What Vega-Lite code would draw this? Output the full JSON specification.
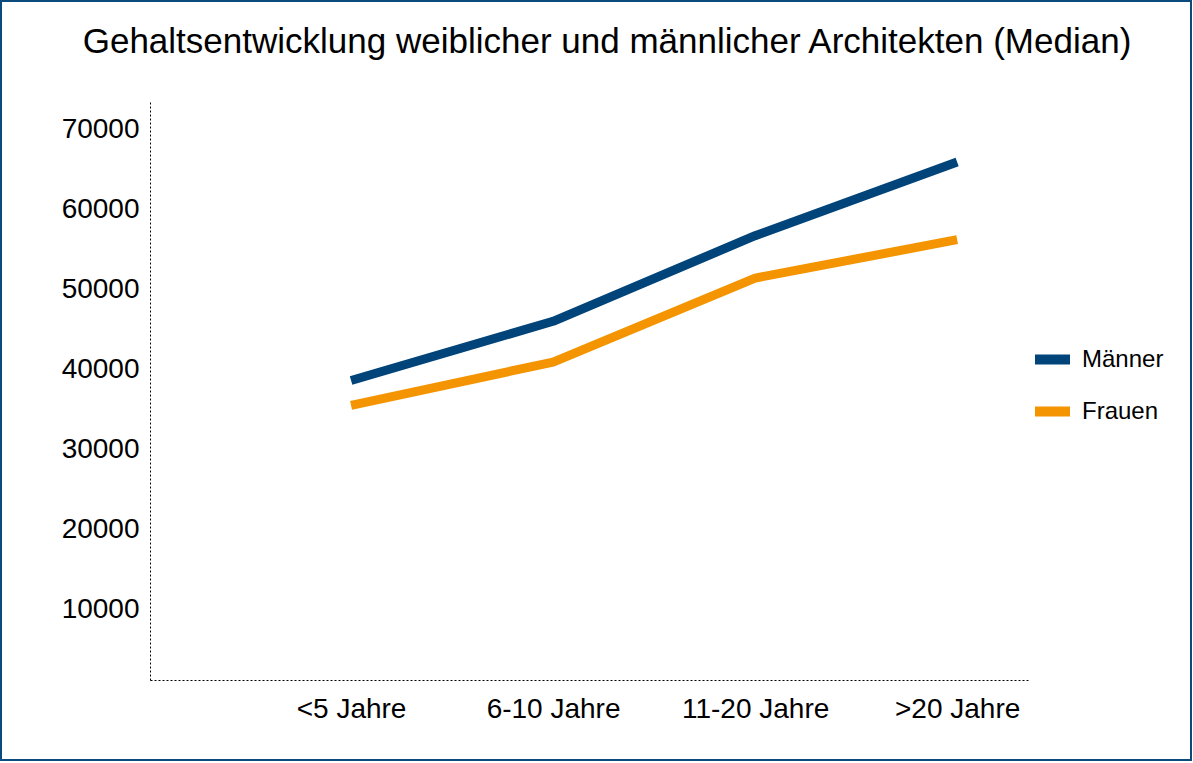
{
  "$schema": "https://vega.github.io/schema/vega-lite/v6.json",
  "autosize": "none",
  "width": 1190,
  "height": 759,
  "padding": {"left": 1, "top": 1, "right": 2, "bottom": 3},
  "background": "white",
  "title": {
    "text": "Gehaltsentwicklung weiblicher und männlicher Architekten (Median)",
    "font": "Liberation Sans",
    "fontSize": 35,
    "fontWeight": "normal",
    "color": "black",
    "anchor": "middle",
    "frame": "group",
    "baseline": "alphabetic",
    "offset": -87,
    "dx": 11
  },
  "data": {
    "values": [
      {"Erfahrung": "<5 Jahre", "Gruppe": "Männer", "Gehalt": 38600},
      {"Erfahrung": "6-10 Jahre", "Gruppe": "Männer", "Gehalt": 46000},
      {"Erfahrung": "11-20 Jahre", "Gruppe": "Männer", "Gehalt": 56700},
      {"Erfahrung": ">20 Jahre", "Gruppe": "Männer", "Gehalt": 65900},
      {"Erfahrung": "<5 Jahre", "Gruppe": "Frauen", "Gehalt": 35500},
      {"Erfahrung": "6-10 Jahre", "Gruppe": "Frauen", "Gehalt": 40900},
      {"Erfahrung": "11-20 Jahre", "Gruppe": "Frauen", "Gehalt": 51400},
      {"Erfahrung": ">20 Jahre", "Gruppe": "Frauen", "Gehalt": 56200}
    ]
  },
  "mark": {"type": "line", "strokeWidth": 9, "strokeCap": "butt", "strokeJoin": "round"},
  "encoding": {
    "x": {
      "field": "Erfahrung",
      "type": "ordinal",
      "sort": ["<5 Jahre", "6-10 Jahre", "11-20 Jahre", ">20 Jahre"],
      "scale": {"type": "point", "range": [149, 1029], "padding": 0.678, "align": 0.734},
      "axis": {
        "title": null,
        "offset": -80,
        "ticks": false,
        "grid": false,
        "labelAngle": 0,
        "labelFont": "Liberation Sans",
        "labelFontSize": 28,
        "labelColor": "black",
        "labelPadding": 15,
        "domainColor": "black",
        "domainWidth": 1,
        "domainDash": [2, 2]
      }
    },
    "y": {
      "field": "Gehalt",
      "type": "quantitative",
      "scale": {"domain": [1160, 73660], "range": [679, 99], "nice": false, "zero": false},
      "axis": {
        "title": null,
        "offset": -149,
        "values": [10000, 20000, 30000, 40000, 50000, 60000, 70000],
        "format": "d",
        "ticks": false,
        "grid": false,
        "labelFont": "Liberation Sans",
        "labelFontSize": 28,
        "labelColor": "black",
        "labelPadding": 11,
        "domainColor": "black",
        "domainWidth": 1,
        "domainDash": [2, 2]
      }
    },
    "color": {
      "field": "Gruppe",
      "type": "nominal",
      "scale": {"domain": ["Männer", "Frauen"], "range": ["#004479", "#F39400"]},
      "legend": {
        "title": null,
        "orient": "none",
        "legendX": 1029,
        "legendY": 336,
        "padding": 0,
        "symbolType": "stroke",
        "symbolSize": 1225,
        "symbolStrokeWidth": 10,
        "labelFont": "Liberation Sans",
        "labelFontSize": 24,
        "labelColor": "black",
        "labelOffset": 7,
        "rowPadding": 9
      }
    }
  },
  "config": {
    "view": {"stroke": "#0B4A7D", "strokeWidth": 2}
  }
}
